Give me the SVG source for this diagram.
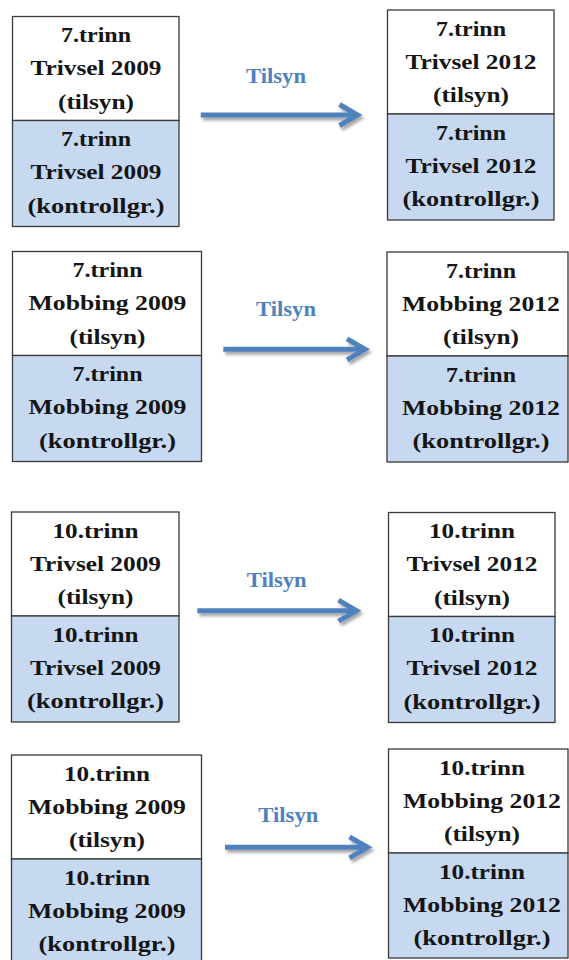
<svg xmlns="http://www.w3.org/2000/svg" width="569" height="960" viewBox="0 0 569 960">
<style>
.box{stroke:#3a3a3a;stroke-width:1.3}
.top{fill:#ffffff}
.bot{fill:#c6d9f1}
.t{font-family:"Liberation Serif","Times New Roman",serif;font-weight:bold;font-size:22px;fill:#151515;text-anchor:middle}
.lbl{font-family:"Liberation Serif","Times New Roman",serif;font-weight:bold;font-size:21px;fill:#4f81bd;text-anchor:middle}
.arr{stroke:#4f81bd;stroke-width:5;fill:none;marker-end:url(#head)}
</style>
<defs>
<marker id="head" markerUnits="userSpaceOnUse" markerWidth="30" markerHeight="30" viewBox="0 0 30 30" refX="20" refY="15" orient="auto" overflow="visible">
<path d="M2,4.5 L20,15 L2,25.5" fill="none" stroke="#4f81bd" stroke-width="5" stroke-linejoin="miter"/>
</marker>
<filter id="sh" x="-10%" y="-50%" width="120%" height="200%">
<feGaussianBlur in="SourceAlpha" stdDeviation="1.6"/>
<feOffset dx="1.5" dy="3" result="b"/>
<feFlood flood-color="#000" flood-opacity="0.35"/>
<feComposite in2="b" operator="in"/>
<feMerge><feMergeNode/><feMergeNode in="SourceGraphic"/></feMerge>
</filter>
</defs>

<g id="n7-trivsel-2009">
<rect class="box top" x="12.5" y="16.5" width="166.5" height="104"/>
<rect class="box bot" x="12.5" y="120.5" width="166.5" height="106"/>
<text class="t" x="96" y="42" textLength="70" lengthAdjust="spacingAndGlyphs">7.trinn</text>
<text class="t" x="96" y="75.3" textLength="131" lengthAdjust="spacingAndGlyphs">Trivsel 2009</text>
<text class="t" x="96" y="108.5" textLength="76" lengthAdjust="spacingAndGlyphs">(tilsyn)</text>
<text class="t" x="96" y="146" textLength="70" lengthAdjust="spacingAndGlyphs">7.trinn</text>
<text class="t" x="96" y="179.3" textLength="131" lengthAdjust="spacingAndGlyphs">Trivsel 2009</text>
<text class="t" x="96" y="212.5" textLength="137" lengthAdjust="spacingAndGlyphs">(kontrollgr.)</text>
</g>
<g id="n7-trivsel-2012">
<rect class="box top" x="387.5" y="10" width="166.5" height="104"/>
<rect class="box bot" x="387.5" y="114" width="166.5" height="106"/>
<text class="t" x="471" y="35.5" textLength="70" lengthAdjust="spacingAndGlyphs">7.trinn</text>
<text class="t" x="471" y="68.8" textLength="131" lengthAdjust="spacingAndGlyphs">Trivsel 2012</text>
<text class="t" x="471" y="102" textLength="76" lengthAdjust="spacingAndGlyphs">(tilsyn)</text>
<text class="t" x="471" y="139.5" textLength="70" lengthAdjust="spacingAndGlyphs">7.trinn</text>
<text class="t" x="471" y="172.8" textLength="131" lengthAdjust="spacingAndGlyphs">Trivsel 2012</text>
<text class="t" x="471" y="206" textLength="137" lengthAdjust="spacingAndGlyphs">(kontrollgr.)</text>
</g>

<g id="n7-mobbing-2009">
<rect class="box top" x="12.5" y="251.5" width="189" height="104"/>
<rect class="box bot" x="12.5" y="355.5" width="189" height="106"/>
<text class="t" x="107.5" y="277" textLength="70" lengthAdjust="spacingAndGlyphs">7.trinn</text>
<text class="t" x="107.5" y="310.3" textLength="158" lengthAdjust="spacingAndGlyphs">Mobbing 2009</text>
<text class="t" x="107.5" y="343.5" textLength="76" lengthAdjust="spacingAndGlyphs">(tilsyn)</text>
<text class="t" x="107.5" y="381" textLength="70" lengthAdjust="spacingAndGlyphs">7.trinn</text>
<text class="t" x="107.5" y="414.3" textLength="158" lengthAdjust="spacingAndGlyphs">Mobbing 2009</text>
<text class="t" x="107.5" y="447.5" textLength="137" lengthAdjust="spacingAndGlyphs">(kontrollgr.)</text>
</g>
<g id="n7-mobbing-2012">
<rect class="box top" x="387" y="252" width="181" height="104"/>
<rect class="box bot" x="387" y="356" width="181" height="106"/>
<text class="t" x="481" y="277.5" textLength="70" lengthAdjust="spacingAndGlyphs">7.trinn</text>
<text class="t" x="481" y="310.8" textLength="158" lengthAdjust="spacingAndGlyphs">Mobbing 2012</text>
<text class="t" x="481" y="344" textLength="76" lengthAdjust="spacingAndGlyphs">(tilsyn)</text>
<text class="t" x="481" y="381.5" textLength="70" lengthAdjust="spacingAndGlyphs">7.trinn</text>
<text class="t" x="481" y="414.8" textLength="158" lengthAdjust="spacingAndGlyphs">Mobbing 2012</text>
<text class="t" x="481" y="448" textLength="137" lengthAdjust="spacingAndGlyphs">(kontrollgr.)</text>
</g>

<g id="n10-trivsel-2009">
<rect class="box top" x="11.5" y="512" width="167.5" height="104"/>
<rect class="box bot" x="11.5" y="616" width="167.5" height="106"/>
<text class="t" x="95.5" y="537.5" textLength="86" lengthAdjust="spacingAndGlyphs">10.trinn</text>
<text class="t" x="95.5" y="570.8" textLength="131" lengthAdjust="spacingAndGlyphs">Trivsel 2009</text>
<text class="t" x="95.5" y="604" textLength="76" lengthAdjust="spacingAndGlyphs">(tilsyn)</text>
<text class="t" x="95.5" y="641.5" textLength="86" lengthAdjust="spacingAndGlyphs">10.trinn</text>
<text class="t" x="95.5" y="674.8" textLength="131" lengthAdjust="spacingAndGlyphs">Trivsel 2009</text>
<text class="t" x="95.5" y="708" textLength="137" lengthAdjust="spacingAndGlyphs">(kontrollgr.)</text>
</g>
<g id="n10-trivsel-2012">
<rect class="box top" x="388.5" y="512.5" width="166.5" height="104"/>
<rect class="box bot" x="388.5" y="616.5" width="166.5" height="106"/>
<text class="t" x="472" y="538" textLength="86" lengthAdjust="spacingAndGlyphs">10.trinn</text>
<text class="t" x="472" y="571.3" textLength="131" lengthAdjust="spacingAndGlyphs">Trivsel 2012</text>
<text class="t" x="472" y="604.5" textLength="76" lengthAdjust="spacingAndGlyphs">(tilsyn)</text>
<text class="t" x="472" y="642" textLength="86" lengthAdjust="spacingAndGlyphs">10.trinn</text>
<text class="t" x="472" y="675.3" textLength="131" lengthAdjust="spacingAndGlyphs">Trivsel 2012</text>
<text class="t" x="472" y="708.5" textLength="137" lengthAdjust="spacingAndGlyphs">(kontrollgr.)</text>
</g>

<g id="n10-mobbing-2009">
<rect class="box top" x="11.5" y="755" width="190" height="104"/>
<rect class="box bot" x="11.5" y="859" width="190" height="106"/>
<text class="t" x="107" y="780.5" textLength="86" lengthAdjust="spacingAndGlyphs">10.trinn</text>
<text class="t" x="107" y="813.8" textLength="158" lengthAdjust="spacingAndGlyphs">Mobbing 2009</text>
<text class="t" x="107" y="847" textLength="76" lengthAdjust="spacingAndGlyphs">(tilsyn)</text>
<text class="t" x="107" y="884.5" textLength="86" lengthAdjust="spacingAndGlyphs">10.trinn</text>
<text class="t" x="107" y="917.8" textLength="158" lengthAdjust="spacingAndGlyphs">Mobbing 2009</text>
<text class="t" x="107" y="951" textLength="137" lengthAdjust="spacingAndGlyphs">(kontrollgr.)</text>
</g>
<g id="n10-mobbing-2012">
<rect class="box top" x="388.5" y="749" width="179.5" height="104"/>
<rect class="box bot" x="388.5" y="853" width="179.5" height="105"/>
<text class="t" x="482" y="774.5" textLength="86" lengthAdjust="spacingAndGlyphs">10.trinn</text>
<text class="t" x="482" y="807.8" textLength="158" lengthAdjust="spacingAndGlyphs">Mobbing 2012</text>
<text class="t" x="482" y="841" textLength="76" lengthAdjust="spacingAndGlyphs">(tilsyn)</text>
<text class="t" x="482" y="878.5" textLength="86" lengthAdjust="spacingAndGlyphs">10.trinn</text>
<text class="t" x="482" y="911.8" textLength="158" lengthAdjust="spacingAndGlyphs">Mobbing 2012</text>
<text class="t" x="482" y="945" textLength="137" lengthAdjust="spacingAndGlyphs">(kontrollgr.)</text>
</g>

<g id="connectors">
<g filter="url(#sh)">
<path class="arr" d="M200.7,115 H357.5"/>
<path class="arr" d="M223.3,349.3 H365"/>
<path class="arr" d="M197.3,610.7 H356.5"/>
<path class="arr" d="M225,847.3 H367.5"/>
</g>
<text class="lbl" x="276" y="83.3" textLength="60" lengthAdjust="spacingAndGlyphs">Tilsyn</text>
<text class="lbl" x="286" y="316" textLength="60" lengthAdjust="spacingAndGlyphs">Tilsyn</text>
<text class="lbl" x="276.7" y="586.7" textLength="60" lengthAdjust="spacingAndGlyphs">Tilsyn</text>
<text class="lbl" x="288.3" y="821.7" textLength="60" lengthAdjust="spacingAndGlyphs">Tilsyn</text>
</g>
</svg>
